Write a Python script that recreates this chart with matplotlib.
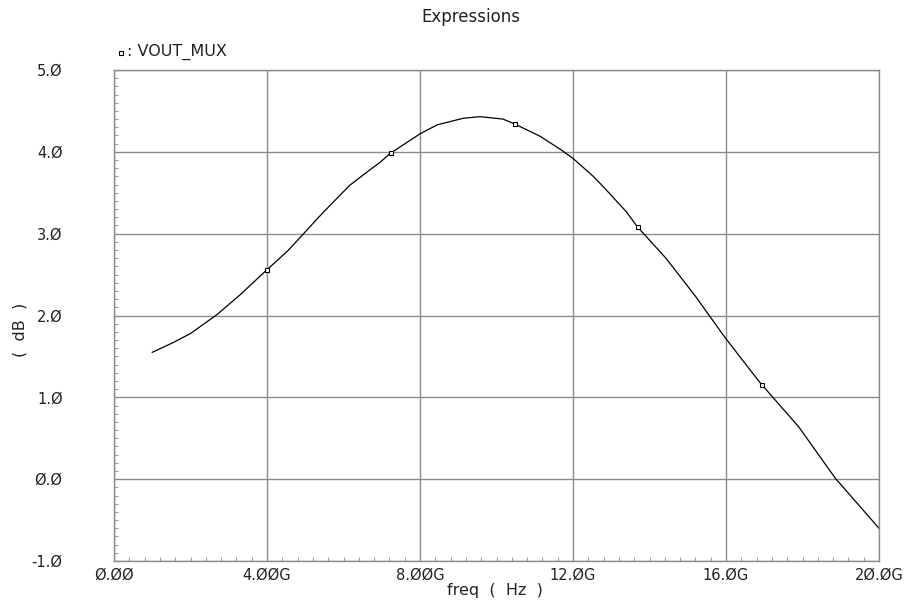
import matplotlib
matplotlib.use("Agg")
import matplotlib.pyplot as plt
from matplotlib.ticker import MultipleLocator

# 曲線データ (GHz, dB)
freq_g = [1.0, 1.55, 2.0, 2.69, 3.29, 4.0, 4.52, 4.9, 5.25, 5.47, 6.16, 6.69, 6.95,
          7.22, 8.0, 8.45, 9.13, 9.57, 10.17, 10.48, 11.14, 11.67, 12.0, 12.53,
          12.78, 13.39, 13.69, 14.43, 15.21, 15.96, 16.87, 17.9, 18.86, 20.0]
vout_db = [1.55, 1.67, 1.78, 2.01, 2.25, 2.56, 2.78, 2.97, 3.15, 3.26, 3.59, 3.78, 3.87,
           3.98, 4.22, 4.33, 4.41, 4.43, 4.40, 4.34, 4.19, 4.03, 3.92, 3.70,
           3.58, 3.27, 3.08, 2.70, 2.23, 1.74, 1.19, 0.64, 0.01, -0.60]

# マーカー位置
mark_g = [4.0, 7.24, 10.48, 13.69, 16.93]
mark_db = [2.56, 3.99, 4.34, 3.08, 1.15]

xticks = [0, 4, 8, 12, 16, 20]
xlabels = ["Ø.ØØ", "4.ØØG", "8.ØØG", "12.ØG", "16.ØG", "2Ø.ØG"]
yticks = [-1, 0, 1, 2, 3, 4, 5]
ylabels = ["-1.Ø", "Ø.Ø", "1.Ø", "2.Ø", "3.Ø", "4.Ø", "5.Ø"]

plt.rcParams['font.family'] = ['DejaVu Sans']
fig = plt.figure(figsize=(9.14, 6.04), dpi=100)
ax = fig.add_axes([114/914, 1-561/604, (879-114)/914, (561-70)/604])

ax.plot(freq_g, vout_db, color='black', lw=0.9)
ax.plot(mark_g, mark_db, ls='none', marker='s', ms=3.5, mfc='white', mec='black', mew=0.8)

ax.set_xlim(0, 20)
ax.set_ylim(-1, 5)
ax.set_xticks(xticks)
ax.set_xticklabels(xlabels)
ax.set_yticks(yticks)
ax.set_yticklabels(ylabels)
ax.xaxis.set_minor_locator(MultipleLocator(0.4))
ax.yaxis.set_minor_locator(MultipleLocator(0.1))

# グリッド表示
ax.grid(True, which='major', color='#8c8c8c', lw=1.0)
for s in ax.spines.values():
    s.set_color('#8c8c8c')
    s.set_linewidth(1.0)
ax.tick_params(which='major', length=0, labelsize=10.5, colors='#222222')
ax.tick_params(axis='y', which='major', pad=37)
ax.tick_params(axis='x', which='major', pad=5)
ax.tick_params(which='minor', direction='in', length=3, color='#8c8c8c')

fig.text(471/914, 1-17/604, "Expressions", ha='center', va='center', fontsize=12, color='#222222')
fig.text(495/914, 1-591/604, "freq  (  Hz  )", ha='center', va='center', fontsize=11.5, color='#222222')
fig.text(20/914, 1-330/604, "(  dB  )", ha='center', va='center', rotation=90, fontsize=11.5, color='#222222')
fig.text(127/914, 1-52/604, ": VOUT_MUX", ha='left', va='center', fontsize=11.5, color='#222222')
fig.lines.append(plt.Line2D([121/914], [1-53/604], transform=fig.transFigure, ls='none',
                            marker='s', ms=3, mfc='white', mec='black', mew=0.8))

fig.savefig("out.png", dpi=100)
